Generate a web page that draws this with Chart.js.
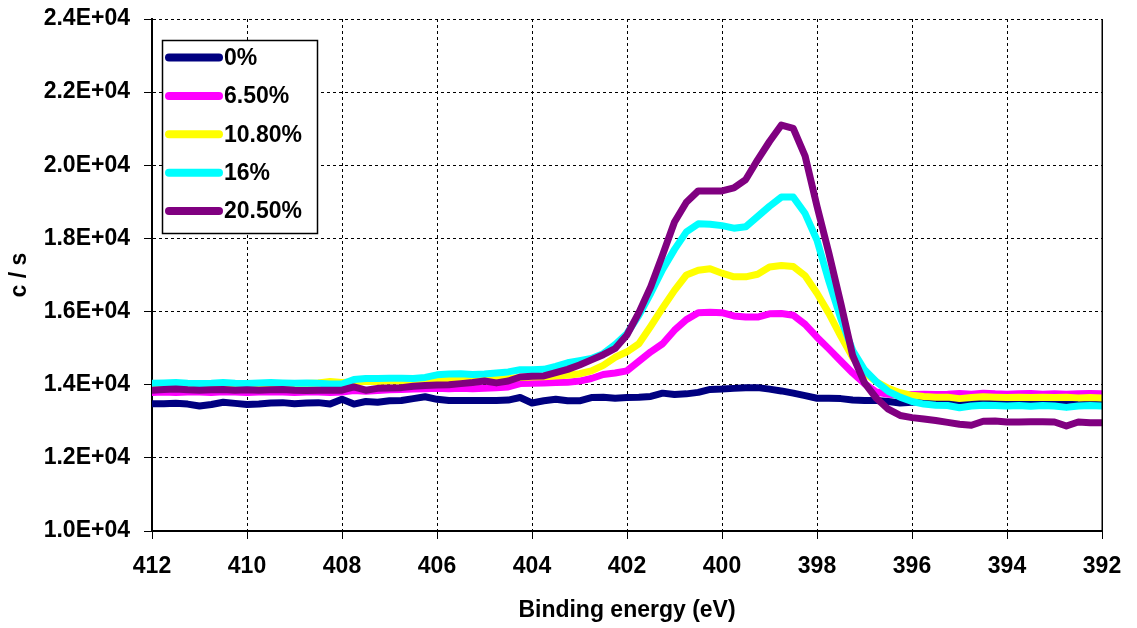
<!DOCTYPE html>
<html>
<head>
<meta charset="utf-8">
<script src="https://cdn.jsdelivr.net/npm/chart.js@4.4.1/dist/chart.umd.min.js"></script>
<style>
  html, body { margin: 0; padding: 0; background: #ffffff; }
  #wrap { width: 1137px; height: 628px; position: relative; }
</style>
</head>
<body>
<div id="wrap"><canvas id="c" width="1137" height="628"></canvas></div>
<script>
// Binding energy (eV), x values of every series
const energies = [
  412, 411.75, 411.5, 411.25, 411, 410.75, 410.5, 410.25, 410, 409.75,
  409.5, 409.25, 409, 408.75, 408.5, 408.25, 408, 407.75, 407.5, 407.25,
  407, 406.75, 406.5, 406.25, 406, 405.75, 405.5, 405.25, 405, 404.75,
  404.5, 404.25, 404, 403.75, 403.5, 403.25, 403, 402.75, 402.5, 402.25,
  402, 401.75, 401.5, 401.25, 401, 400.75, 400.5, 400.25, 400, 399.75,
  399.5, 399.25, 399, 398.75, 398.5, 398.25, 398, 397.75, 397.5, 397.25,
  397, 396.75, 396.5, 396.25, 396, 395.75, 395.5, 395.25, 395, 394.75,
  394.5, 394.25, 394, 393.75, 393.5, 393.25, 393, 392.75, 392.5, 392.25,
  392
];

const seriesLabels = ['0%', '6.50%', '10.80%', '16%', '20.50%'];
const seriesColors = ['#000080', '#FF00FF', '#FFFF00', '#00FFFF', '#800080'];

const counts0 = [
  13480, 13480, 13490, 13470, 13420, 13460, 13520, 13490, 13460, 13470,
  13500, 13510, 13480, 13500, 13510, 13470, 13600, 13470, 13540, 13520,
  13560, 13570, 13620, 13670, 13600, 13570, 13570, 13570, 13570, 13570,
  13580, 13650, 13500, 13560, 13600, 13560, 13560, 13650, 13660, 13630,
  13650, 13660, 13680, 13770, 13730, 13750, 13790, 13870, 13880, 13900,
  13920, 13920, 13880, 13830, 13770, 13700, 13630, 13630, 13620, 13580,
  13570, 13570, 13540, 13500, 13520, 13540, 13560, 13570, 13560, 13570,
  13580, 13570, 13560, 13570, 13580, 13570, 13560, 13570, 13580, 13570,
  13560
];

const counts650 = [
  13790, 13800, 13790, 13800, 13800, 13790, 13810, 13800, 13790, 13800,
  13810, 13800, 13790, 13800, 13800, 13790, 13800, 13840, 13820, 13840,
  13860, 13870, 13880, 13890, 13900, 13890, 13900, 13890, 13900, 13920,
  13940, 14030, 14040, 14050, 14060, 14070, 14100, 14170, 14280, 14320,
  14380, 14640, 14900, 15120, 15490, 15780, 15970, 15980, 15970, 15880,
  15850, 15850, 15940, 15945, 15900, 15650, 15300, 14980, 14650, 14320,
  14030, 13800, 13740, 13720, 13730, 13740, 13730, 13740, 13760, 13740,
  13770, 13750, 13740, 13750, 13760, 13740, 13750, 13740, 13750, 13760,
  13750
];

const counts1080 = [
  14010, 14020, 14020, 14010, 14020, 14020, 14030, 14020, 14010, 14020,
  14030, 14020, 14020, 14030, 14050, 14090, 14060, 14080, 14090, 14090,
  14100, 14100, 14110, 14110, 14120, 14120, 14120, 14130, 14140, 14150,
  14170, 14200, 14210, 14220, 14240, 14260, 14300, 14380, 14530, 14750,
  14900, 15120, 15600, 16100, 16580, 17000, 17130, 17170, 17050, 16950,
  16950, 17020, 17220, 17260, 17230, 16980, 16500, 15950, 15330, 14750,
  14330, 14080, 13900, 13780, 13710, 13680, 13660, 13660, 13620, 13650,
  13670, 13660, 13650, 13660, 13650, 13660, 13650, 13660, 13640, 13650,
  13640
];

const counts16 = [
  14040, 14050, 14060, 14040, 14030, 14040, 14060, 14040, 14030, 14050,
  14060, 14050, 14040, 14050, 14040, 14020, 14020, 14140, 14170, 14170,
  14180, 14180, 14170, 14200, 14270, 14290, 14300, 14280, 14290, 14320,
  14350, 14410, 14410, 14420, 14500, 14600, 14660, 14720, 14850, 15100,
  15400, 15900, 16500, 17150, 17700, 18180, 18400, 18390, 18350, 18280,
  18320, 18600, 18880, 19130, 19130, 18680, 17950, 16830, 15810, 14940,
  14410, 14080, 13820, 13660, 13540, 13470, 13440, 13430, 13370, 13420,
  13440, 13430, 13420, 13430, 13410, 13430, 13420, 13380, 13420, 13430,
  13420
];

const counts2050 = [
  13850, 13870, 13880, 13860, 13850, 13860, 13870, 13850, 13860, 13850,
  13860, 13870, 13850, 13840, 13850, 13850, 13850, 13940, 13850, 13900,
  13910, 13920, 13960, 13980, 13990, 14000, 14030, 14060, 14100, 14050,
  14100, 14210, 14230, 14240, 14330, 14420, 14540, 14680, 14820, 14990,
  15360, 15970, 16680, 17550, 18450, 18990, 19300, 19300, 19300, 19380,
  19610, 20150, 20650, 21100, 21010, 20250, 18880, 17600, 16230, 14800,
  14050, 13630, 13330, 13160, 13100, 13060, 13020, 12970, 12920, 12890,
  13000, 13010, 12980, 12980, 12990, 12990, 12980, 12870, 12980, 12960,
  12960
];

const xTickValues = [412, 410, 408, 406, 404, 402, 400, 398, 396, 394, 392];
const yTickValues = [10000, 12000, 14000, 16000, 18000, 20000, 22000, 24000];
const yTickLabels = ['1.0E+04', '1.2E+04', '1.4E+04', '1.6E+04', '1.8E+04', '2.0E+04', '2.2E+04', '2.4E+04'];

const allCounts = [counts0, counts650, counts1080, counts16, counts2050];

const FONT = '"Liberation Sans", Arial, Helvetica, sans-serif';

const datasets = allCounts.map((arr, i) => ({
  label: seriesLabels[i],
  data: arr.map((v, j) => ({ x: energies[j], y: v })),
  borderColor: seriesColors[i],
  backgroundColor: seriesColors[i],
  borderWidth: 7,
  pointRadius: 0,
  pointHoverRadius: 0,
  tension: 0,
  fill: false,
  borderJoinStyle: 'round',
  borderCapStyle: 'round',
  order: allCounts.length - i
}));

const boxLegend = {
  id: 'boxLegend',
  afterDatasetsDraw(chart) {
    const ctx = chart.ctx;
    const a = chart.chartArea;
    const bx = a.left + 10, by = a.top + 21, bw = 155, bh = 193;
    ctx.save();
    ctx.fillStyle = '#ffffff';
    ctx.fillRect(bx, by, bw, bh);
    ctx.strokeStyle = '#000000';
    ctx.lineWidth = 1.5;
    ctx.strokeRect(bx + 0.5, by + 0.5, bw, bh);
    chart.data.datasets.forEach((ds, i) => {
      const cy = by + 17.5 + i * 38.4;
      ctx.beginPath();
      ctx.strokeStyle = ds.borderColor;
      ctx.lineWidth = 8;
      ctx.lineCap = 'round';
      ctx.moveTo(bx + 7, cy);
      ctx.lineTo(bx + 57, cy);
      ctx.stroke();
      ctx.fillStyle = '#000000';
      ctx.font = 'bold 23px ' + FONT;
      ctx.textBaseline = 'middle';
      ctx.textAlign = 'left';
      ctx.fillText(ds.label, bx + 62, cy + 1);
    });
    ctx.restore();
  },
  afterDraw(chart) {
    const ctx = chart.ctx;
    const a = chart.chartArea;
    ctx.save();
    ctx.strokeStyle = '#000000';
    ctx.lineWidth = 1.5;
    ctx.beginPath();
    ctx.moveTo(Math.round(a.right) + 0.25, a.top);
    ctx.lineTo(Math.round(a.right) + 0.25, a.bottom);
    ctx.stroke();
    ctx.restore();
  }
};

new Chart(document.getElementById('c'), {
  type: 'line',
  data: { datasets },
  plugins: [boxLegend],
  options: {
    responsive: false,
    animation: false,
    events: [],
    layout: { padding: { left: 0, right: 35, top: 19, bottom: 0 } },
    plugins: { legend: { display: false }, tooltip: { enabled: false } },
    scales: {
      x: {
        type: 'linear',
        reverse: true,
        min: 392,
        max: 412,
        afterBuildTicks: (s) => { s.ticks = xTickValues.map(v => ({ value: v })); },
        afterFit: (s) => { s.height = 97; s.paddingLeft = 0; s.paddingRight = 0; },
        ticks: {
          color: '#000000',
          font: { family: FONT, size: 23, weight: 'bold' },
          padding: 14,
          maxRotation: 0,
          autoSkip: false,
          callback: (v) => String(v)
        },
        grid: {
          color: '#000000',
          lineWidth: 1,
          tickLength: 8,
          tickColor: '#000000',
          tickBorderDash: []
        },
        border: { display: true, color: '#000000', width: 2, dash: [3, 3] },
        title: {
          display: true,
          text: 'Binding energy (eV)',
          color: '#000000',
          font: { family: FONT, size: 23, weight: 'bold' },
          padding: { top: 0, bottom: 4 }
        }
      },
      y: {
        type: 'linear',
        min: 10000,
        max: 24000,
        afterBuildTicks: (s) => { s.ticks = yTickValues.map(v => ({ value: v })); },
        afterFit: (s) => { s.width = 152; s.paddingTop = 0; s.paddingBottom = 0; },
        ticks: {
          color: '#000000',
          font: { family: FONT, size: 23, weight: 'bold' },
          padding: 14,
          autoSkip: false,
          callback: (v) => { const k = yTickValues.indexOf(v); return k >= 0 ? yTickLabels[k] : ''; }
        },
        grid: {
          color: '#000000',
          lineWidth: 1,
          tickLength: 8,
          tickColor: '#000000',
          tickBorderDash: []
        },
        border: { display: true, color: '#000000', width: 2, dash: [3, 3] },
        title: {
          display: true,
          text: 'c / s',
          color: '#000000',
          font: { family: FONT, size: 23, weight: 'bold' },
          padding: { top: 6, bottom: 0 }
        }
      }
    }
  }
});
</script>
</body>
</html>
